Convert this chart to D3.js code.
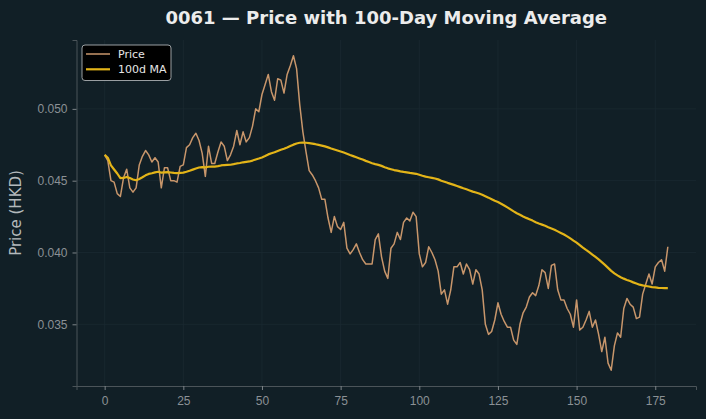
<!DOCTYPE html>
<html>
<head>
<meta charset="utf-8">
<script src="https://cdn.jsdelivr.net/npm/d3@7"></script>
<style>
  html, body { margin: 0; padding: 0; background: #111f26; }
  svg { display: block; font-family: "DejaVu Sans", sans-serif; }
  .tick text { fill: #8b9195; font-size: 12px; }
  .tick line { stroke: #7d8488; }
  .domain { stroke: #4b5459; }
</style>
</head>
<body>
<svg class="main" width="706" height="419"></svg>
<script>
const title = "0061 — Price with 100-Day Moving Average";
const yLabel = "Price (HKD)";
const seriesNames = ["Price", "100d MA"];

const xTicks = [0, 25, 50, 75, 100, 125, 150, 175];
const yTicks = [0.035, 0.040, 0.045, 0.050];

// daily close (index 0..179)
const price = [
  0.0468, 0.0464, 0.0450, 0.0449, 0.0441, 0.0439, 0.0452, 0.0458, 0.0445, 0.0442,
  0.0445, 0.0461, 0.0467, 0.0471, 0.0468, 0.0463, 0.0466, 0.0463, 0.0445, 0.0459,
  0.0459, 0.0450, 0.0450, 0.0449, 0.0460, 0.0461, 0.0473, 0.0475, 0.0480, 0.0483,
  0.0478, 0.0469, 0.0453, 0.0474, 0.0462, 0.0462, 0.0470, 0.0477, 0.0474, 0.0464,
  0.0468, 0.0474, 0.0485, 0.0475, 0.0484, 0.0477, 0.0480, 0.0488, 0.0500, 0.0498,
  0.0510, 0.0517, 0.0524, 0.0512, 0.0506, 0.0521, 0.0520, 0.0511, 0.0524, 0.0530,
  0.0537, 0.0528, 0.0503, 0.0484, 0.0470, 0.0457, 0.0454, 0.0450, 0.0445, 0.0437,
  0.0437, 0.0424, 0.0414, 0.0425, 0.0418, 0.0416, 0.0421, 0.0403, 0.0399, 0.0402,
  0.0406, 0.0400, 0.0395, 0.0392, 0.0392, 0.0392, 0.0409, 0.0413, 0.0397, 0.0387,
  0.0382, 0.0403, 0.0406, 0.0414, 0.0409, 0.0421, 0.0424, 0.0422, 0.0428, 0.0425,
  0.0399, 0.0390, 0.0393, 0.0404, 0.0400, 0.0395, 0.0387, 0.0371, 0.0374, 0.0364,
  0.0374, 0.0390, 0.0390, 0.0393, 0.0385, 0.0392, 0.0388, 0.0378, 0.0388, 0.0385,
  0.0374, 0.0350, 0.0343, 0.0345, 0.0353, 0.0365, 0.0357, 0.0352, 0.0348, 0.0348,
  0.0339, 0.0336, 0.0350, 0.0358, 0.0362, 0.0369, 0.0372, 0.0370, 0.0377, 0.0388,
  0.0386, 0.0375, 0.0391, 0.0392, 0.0374, 0.0367, 0.0367, 0.0361, 0.0357, 0.0348,
  0.0367, 0.0346, 0.0348, 0.0353, 0.0359, 0.0348, 0.0353, 0.0343, 0.0331, 0.0341,
  0.0323, 0.0318, 0.0335, 0.0344, 0.0341, 0.0361, 0.0368, 0.0364, 0.0362, 0.0354,
  0.0355, 0.0371, 0.0378, 0.0385, 0.0378, 0.0390, 0.0393, 0.0395, 0.0387, 0.0404
];

// moving average line
const ma = [
  0.04680, 0.04660, 0.04607, 0.04578, 0.04550, 0.04518, 0.04519, 0.04526, 0.04518, 0.04508,
  0.04503, 0.04512, 0.04524, 0.04537, 0.04547, 0.04552, 0.04558, 0.04562, 0.04556, 0.04558,
  0.04560, 0.04557, 0.04554, 0.04552, 0.04554, 0.04556, 0.04562, 0.04569, 0.04577, 0.04585,
  0.04592, 0.04595, 0.04593, 0.04597, 0.04598, 0.04598, 0.04601, 0.04606, 0.04609, 0.04610,
  0.04611, 0.04615, 0.04620, 0.04623, 0.04628, 0.04631, 0.04634, 0.04640, 0.04647, 0.04654,
  0.04662, 0.04672, 0.04683, 0.04691, 0.04698, 0.04707, 0.04715, 0.04722, 0.04731, 0.04741,
  0.04751, 0.04759, 0.04764, 0.04765, 0.04764, 0.04761, 0.04758, 0.04754, 0.04749, 0.04744,
  0.04739, 0.04732, 0.04724, 0.04717, 0.04710, 0.04703, 0.04696, 0.04688, 0.04679, 0.04671,
  0.04663, 0.04655, 0.04647, 0.04638, 0.04630, 0.04621, 0.04615, 0.04610, 0.04603, 0.04594,
  0.04586, 0.04580, 0.04574, 0.04570, 0.04565, 0.04561, 0.04558, 0.04554, 0.04551, 0.04548,
  0.04541, 0.04534, 0.04528, 0.04524, 0.04520, 0.04515, 0.04509, 0.04500, 0.04493, 0.04485,
  0.04478, 0.04471, 0.04463, 0.04455, 0.04447, 0.04440, 0.04432, 0.04424, 0.04418, 0.04411,
  0.04402, 0.04392, 0.04382, 0.04371, 0.04360, 0.04351, 0.04339, 0.04327, 0.04314, 0.04300,
  0.04286, 0.04273, 0.04263, 0.04251, 0.04241, 0.04232, 0.04222, 0.04211, 0.04202, 0.04194,
  0.04186, 0.04176, 0.04167, 0.04158, 0.04147, 0.04136, 0.04125, 0.04112, 0.04098, 0.04083,
  0.04069, 0.04052, 0.04034, 0.04018, 0.04003, 0.03986, 0.03969, 0.03952, 0.03933, 0.03914,
  0.03893, 0.03872, 0.03855, 0.03841, 0.03828, 0.03818, 0.03809, 0.03801, 0.03792, 0.03784,
  0.03776, 0.03771, 0.03767, 0.03763, 0.03759, 0.03757, 0.03754, 0.03753, 0.03752, 0.03752
];

const colors = ["#c8966b", "#e3b418"];

const width = 706;
const height = 419;
const margin = { top: 40, right: 10, bottom: 33, left: 76.5 };

const svg = d3.select(".main");

svg.append("rect")
  .attr("width", width)
  .attr("height", height)
  .attr("fill", "#111f26");

// matplotlib-style 5% padding
const n = price.length;
const xPad = (n - 1) * 0.05;
const [lo, hi] = d3.extent(price.concat(ma));
const yPad = (hi - lo) * 0.05;

const x = d3.scaleLinear()
  .domain([-xPad, n - 1 + xPad])
  .range([margin.left, width - margin.right]);

const y = d3.scaleLinear()
  .domain([lo - yPad, hi + yPad])
  .range([height - margin.bottom, margin.top]);

// grid
const grid = svg.append("g").attr("stroke", "#1b2a31").attr("stroke-width", 0.8);
grid.selectAll(".gx")
  .data(xTicks)
  .join("line")
  .attr("x1", d => x(d))
  .attr("x2", d => x(d))
  .attr("y1", margin.top)
  .attr("y2", height - margin.bottom);
grid.selectAll(".gy")
  .data(yTicks)
  .join("line")
  .attr("x1", margin.left)
  .attr("x2", width - margin.right)
  .attr("y1", d => y(d))
  .attr("y2", d => y(d));

// axes
svg.append("g")
  .attr("transform", `translate(0,${height - margin.bottom})`)
  .call(d3.axisBottom(x).tickValues(xTicks).tickFormat(d3.format("d")).tickSize(4).tickPadding(6));

svg.append("g")
  .attr("transform", `translate(${margin.left},0)`)
  .call(d3.axisLeft(y).tickValues(yTicks).tickFormat(d3.format(".3f")).tickSize(4).tickPadding(5));

svg.selectAll(".domain").attr("stroke-width", 1);

// lines
const line = d3.line()
  .x((d, i) => x(i))
  .y(d => y(d));

svg.append("path")
  .datum(price)
  .attr("fill", "none")
  .attr("stroke", colors[0])
  .attr("stroke-width", 1.5)
  .attr("stroke-linejoin", "round")
  .attr("d", line);

svg.append("path")
  .datum(ma)
  .attr("fill", "none")
  .attr("stroke", colors[1])
  .attr("stroke-width", 2.2)
  .attr("stroke-linejoin", "round")
  .attr("d", line);

// title + y label
svg.append("text")
  .attr("x", (margin.left + width - margin.right) / 2)
  .attr("y", 24)
  .attr("text-anchor", "middle")
  .attr("fill", "#ececec")
  .attr("font-size", 18)
  .attr("font-weight", "bold")
  .text(title);

svg.append("text")
  .attr("transform", `translate(21,${(margin.top + height - margin.bottom) / 2}) rotate(-90)`)
  .attr("text-anchor", "middle")
  .attr("fill", "#b4b9bc")
  .attr("font-size", 15)
  .text(yLabel);

// legend
const legend = svg.append("g").attr("transform", "translate(82,45)");
legend.append("rect")
  .attr("width", 89)
  .attr("height", 35.5)
  .attr("rx", 3)
  .attr("fill", "#000")
  .attr("stroke", "#9a9fa2")
  .attr("stroke-width", 1);

const item = legend.selectAll(".item")
  .data(seriesNames)
  .join("g")
  .attr("transform", (d, i) => `translate(0,${9 + i * 15.3})`);

item.append("line")
  .attr("x1", 4)
  .attr("x2", 28)
  .attr("stroke", (d, i) => colors[i])
  .attr("stroke-width", (d, i) => i ? 2.2 : 1.5);

item.append("text")
  .attr("x", 36)
  .attr("dy", "0.35em")
  .attr("fill", "#e6e6e6")
  .attr("font-size", 11)
  .text(d => d);
</script>
</body>
</html>
